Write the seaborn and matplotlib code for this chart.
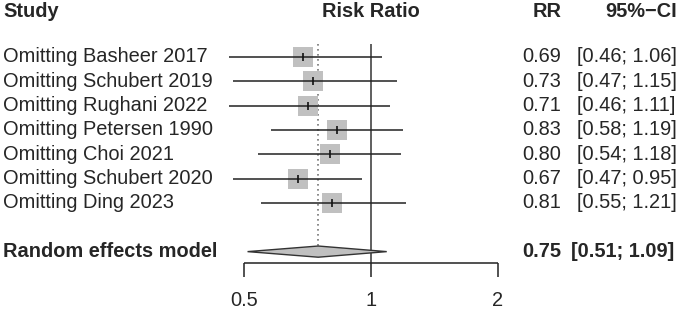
import numpy as np
import pandas as pd
import seaborn as sns
import matplotlib
matplotlib.use("Agg")
import matplotlib.pyplot as plt
from matplotlib.patches import Polygon

studies = ["Omitting Basheer 2017", "Omitting Schubert 2019", "Omitting Rughani 2022",
           "Omitting Petersen 1990", "Omitting Choi 2021", "Omitting Schubert 2020",
           "Omitting Ding 2023"]
rr = [0.69, 0.73, 0.71, 0.83, 0.80, 0.67, 0.81]
ci_lo = [0.46, 0.47, 0.46, 0.58, 0.54, 0.47, 0.55]
ci_hi = [1.06, 1.15, 1.11, 1.19, 1.18, 0.95, 1.21]
pooled_label = "Random effects model"
pooled_rr = 0.75
pooled_lo = 0.51
pooled_hi = 1.09
ticks = [0.5, 1, 2]
tick_labels = ["0.5", "1", "2"]

sns.set_style("white")
plt.rcParams["font.family"] = ["Liberation Sans", "DejaVu Sans"]

fig = plt.figure(figsize=(6.78, 3.10), dpi=100)
ax = fig.add_axes([0, 0, 1, 1])
ax.set_xscale("log", base=2)
ax.set_xlim(0.1321, 5.342)
ax.set_ylim(10.40, -2.343)
ax.axis("off")

rows = np.arange(len(studies))
pooled_row = len(studies) + 1
df = pd.DataFrame({"study": studies, "rr": rr, "lo": ci_lo, "hi": ci_hi, "row": rows})

fs = 14.4
tr = ax.get_yaxis_transform()

# reference lines
ax.vlines(1, -0.52, 8.48, color="#444444", lw=1.2, zorder=1)
ax.vlines(pooled_rr, -0.52, pooled_row - 0.23, color="#777777", lw=1.2,
          linestyles=(0, (1, 2)), zorder=1)

# boxes
sns.scatterplot(data=df, x="rr", y="row", marker="s", s=205, color="#c0c0c0",
                linewidth=0, ax=ax, zorder=2, legend=False)
# CI lines
ax.hlines(df["row"], df["lo"], df["hi"], color="#222222", lw=1.1, zorder=3)
# center tick
sns.scatterplot(data=df, x="rr", y="row", marker="|", s=30, color="#111111",
                linewidth=1.2, ax=ax, zorder=4, legend=False)

# diamond
h = 0.23
diamond = Polygon([(pooled_lo, pooled_row), (pooled_rr, pooled_row - h),
                   (pooled_hi, pooled_row), (pooled_rr, pooled_row + h)],
                  closed=True, facecolor="#c0c0c0", edgecolor="#333333", lw=1.0, zorder=3)
ax.add_patch(diamond)

# x axis
ax.hlines(8.48, ticks[0], ticks[-1], color="#222222", lw=1.1)
ax.vlines(ticks, 8.48, 9.06, color="#222222", lw=1.1)
for t, lab in zip(ticks, tick_labels):
    ax.text(t, 10.0, lab, ha="center", va="center", fontsize=fs)

# headers
hy = -1.88
ax.text(3 / 678, hy, "Study", transform=tr, ha="left", va="center", fontsize=fs, fontweight="bold")
ax.text(1, hy, "Risk Ratio", ha="center", va="center", fontsize=fs, fontweight="bold")
ax.text(562 / 678, hy, "RR", transform=tr, ha="right", va="center", fontsize=fs, fontweight="bold")
ax.text(677 / 678, hy, "95%\u2212CI", transform=tr, ha="right", va="center", fontsize=fs, fontweight="bold")

# rows
ci_x = 577 / 678
for s, r, lo, hi, y in zip(studies, rr, ci_lo, ci_hi, rows):
    ax.text(3 / 678, y, s, transform=tr, ha="left", va="center", fontsize=fs)
    ax.text(561 / 678, y, f"{r:.2f}", transform=tr, ha="right", va="center", fontsize=fs)
    ax.text(ci_x, y, f"[{lo:.2f}; {hi:.2f}]", transform=tr, ha="left", va="center", fontsize=fs)

ax.text(3 / 678, pooled_row, pooled_label, transform=tr, ha="left", va="center",
        fontsize=fs, fontweight="bold")
ax.text(561 / 678, pooled_row, f"{pooled_rr:.2f}", transform=tr, ha="right", va="center",
        fontsize=fs, fontweight="bold")
ax.text(571 / 678, pooled_row, f"[{pooled_lo:.2f}; {pooled_hi:.2f}]", transform=tr, ha="left",
        va="center", fontsize=fs, fontweight="bold")

fig.savefig("out.png", dpi=100)
